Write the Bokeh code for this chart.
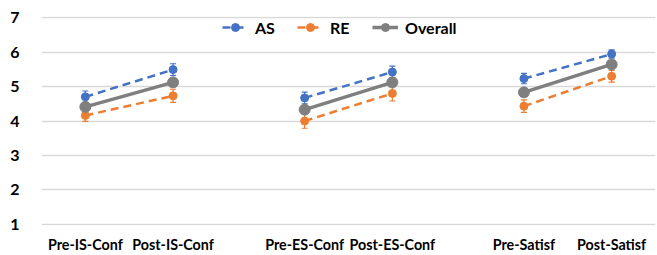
from bokeh.plotting import figure
from bokeh.models import (FixedTicker, Whisker, ColumnDataSource, Legend, LegendItem,
                          TeeHead, Range1d)
from bokeh.embed import file_html
from bokeh.resources import INLINE

categories = ["Pre-IS-Conf", "Post-IS-Conf", "Pre-ES-Conf", "Post-ES-Conf", "Pre-Satisf", "Post-Satisf"]
as_mean = [4.70, 5.49, 4.67, 5.42, 5.23, 5.94]
as_err = [0.17, 0.17, 0.17, 0.17, 0.15, 0.12]
re_mean = [4.16, 4.73, 4.00, 4.80, 4.43, 5.30]
re_err = [0.17, 0.19, 0.21, 0.22, 0.18, 0.17]
ov_mean = [4.41, 5.12, 4.33, 5.12, 4.83, 5.64]
ov_err = [0.10, 0.10, 0.12, 0.12, 0.08, 0.08]
y_ticks = [1, 2, 3, 4, 5, 6, 7]

# slot positions: pairs separated by a wider gap
xs = [1 + i * 2 + (i // 2) for i in range(len(categories))]

FONT = "Lato"
BLUE = "#4472C4"
ORANGE = "#ED7D31"
GRAY = "#7F7F7F"

p = figure(width=657, height=255, output_backend="svg", toolbar_location=None,
           x_range=Range1d(0, 14), y_range=Range1d(0.97, 7.03),
           min_border_left=41, min_border_right=2, min_border_top=16,
           min_border_bottom=30)
p.outline_line_color = None
p.xgrid.grid_line_color = None
p.ygrid.grid_line_color = "#D9D9D9"
p.ygrid.grid_line_width = 1.3
p.background_fill_color = "white"
p.border_fill_color = "white"

for ax in (p.xaxis[0], p.yaxis[0]):
    ax.axis_line_color = None
    ax.major_tick_line_color = None
    ax.minor_tick_line_color = None
    ax.major_label_text_font = FONT
    ax.major_label_text_font_style = "bold"
    ax.major_label_text_color = "black"

p.yaxis.ticker = FixedTicker(ticks=y_ticks)
p.yaxis.major_label_text_font_size = "16px"
p.yaxis.major_label_standoff = 16
p.xaxis.ticker = FixedTicker(ticks=xs)
p.xaxis.major_label_overrides = {x: c for x, c in zip(xs, categories)}
p.xaxis.major_label_text_font_size = "14.3px"
p.xaxis.major_label_standoff = 4


def pairs(vals):
    return [[vals[i], vals[i + 1]] for i in range(0, len(vals), 2)]


items = []
for name, mean, err, color, dash, lw, size in [
    ("AS", as_mean, as_err, BLUE, "8 5", 2.5, 8),
    ("RE", re_mean, re_err, ORANGE, "8 5", 2.5, 8),
    ("Overall", ov_mean, ov_err, GRAY, "solid", 3.5, 11),
]:
    src = ColumnDataSource(dict(x=xs, y=mean,
                                lo=[m - e for m, e in zip(mean, err)],
                                hi=[m + e for m, e in zip(mean, err)]))
    ml = p.multi_line(xs=pairs(xs), ys=pairs(mean), line_color=color,
                      line_width=lw, line_dash=dash)
    w = Whisker(source=src, base="x", lower="lo", upper="hi",
                line_color=color, line_width=1.2,
                upper_head=TeeHead(size=6, line_color=color, line_width=1.2),
                lower_head=TeeHead(size=6, line_color=color, line_width=1.2))
    p.add_layout(w)
    sc = p.scatter("x", "y", source=src, size=size, fill_color=color,
                   line_color=color)
    items.append(LegendItem(label=name, renderers=[ml, sc]))

legend = Legend(items=items, orientation="horizontal", location=(181, 188),
                glyph_width=26, glyph_height=20, label_standoff=7, spacing=22,
                padding=0, margin=0, border_line_color=None,
                background_fill_alpha=0,
                label_text_font=FONT, label_text_font_style="bold",
                label_text_font_size="16px", label_text_color="black")
p.add_layout(legend)

open("out.html", "w").write(file_html(p, INLINE))
